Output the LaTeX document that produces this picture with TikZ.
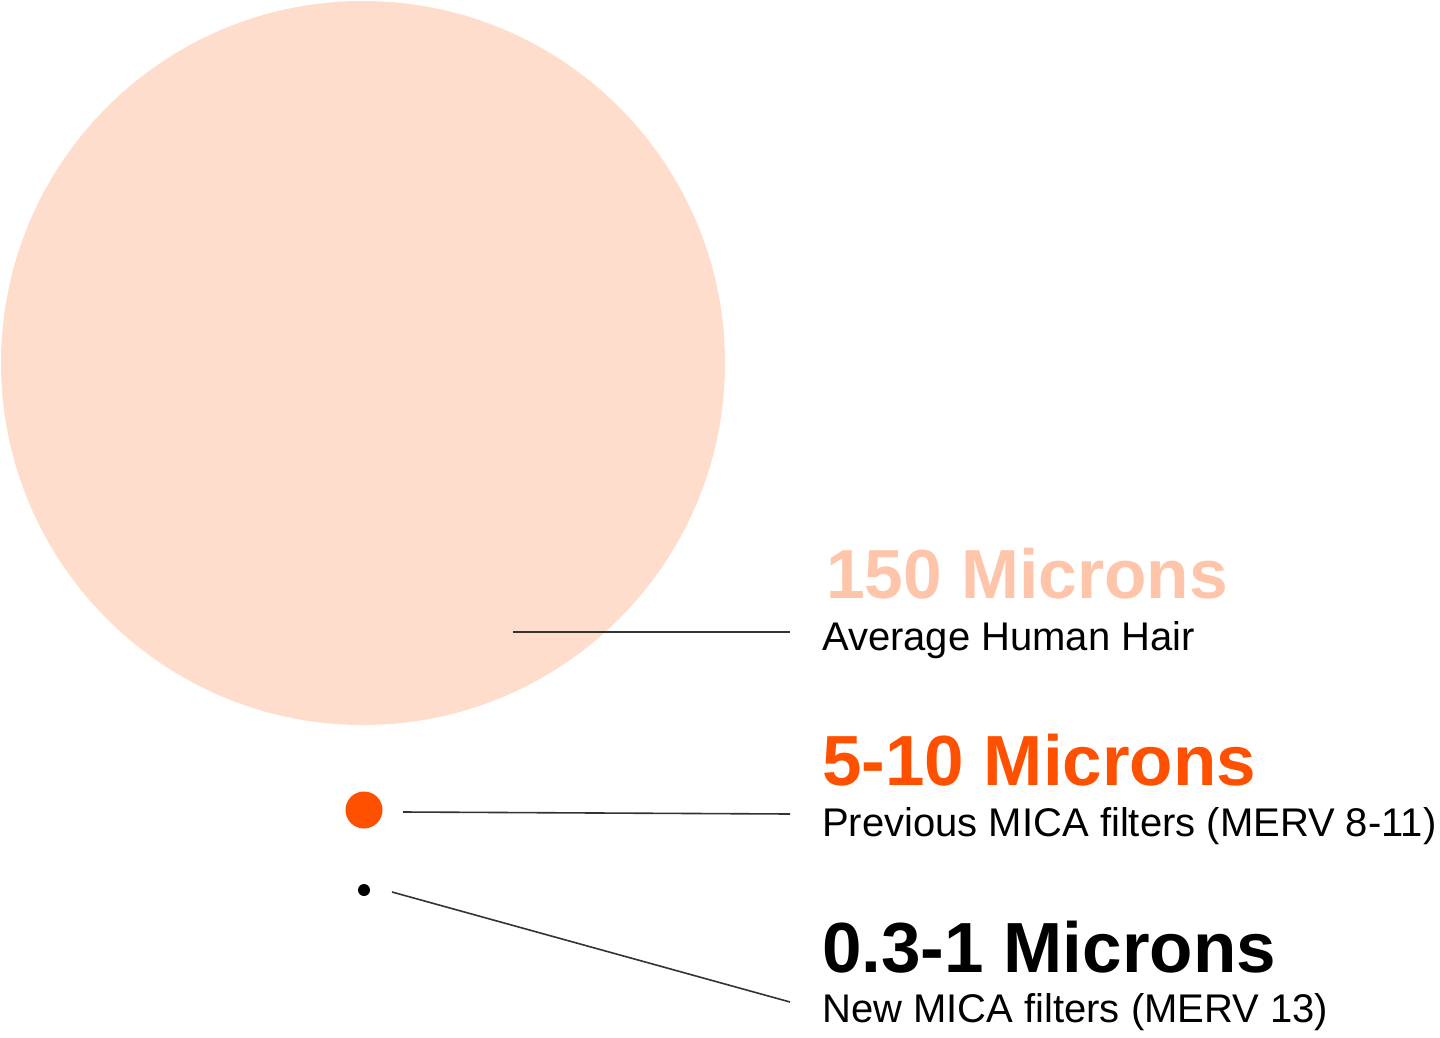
\documentclass[tikz,border=0pt]{standalone}
\usepackage{fontspec}
\setmainfont{Liberation Sans}
\definecolor{peach}{HTML}{FFDDCC}
\definecolor{peachtxt}{HTML}{FFC5AA}
\definecolor{micaorange}{HTML}{FF5000}
\definecolor{leader}{HTML}{333333}
\begin{document}
\begin{tikzpicture}[x=1pt,y=-1pt,
  title/.style={anchor=base west,inner sep=0pt,font=\fontsize{71}{80}\selectfont\bfseries},
  sub/.style={anchor=base west,inner sep=0pt,font=\fontsize{40}{48}\selectfont},
  leaderline/.style={draw=leader,line width=1.6pt},
  dot/.style={circle,inner sep=0pt,draw=none}]
\useasboundingbox (0,0) rectangle (1440,1038);
\node[dot,fill=peach,minimum size=724pt] (hair) at (363,363) {};
\node[dot,fill=micaorange,minimum size=37pt] (old) at (364,810) {};
\node[dot,fill=black,minimum size=12pt] (new) at (364,890) {};

\node[title,text=peachtxt,font=\fontsize{69.5}{80}\selectfont\bfseries] (t1) at (826,598) {150 Microns};
\node[sub] (s1) at (822,650) {Average Human Hair};
\node[title,text=micaorange] (t2) at (822,785) {5-10 Microns};
\node[sub] (s2) at (822,836) {Previous MICA filters (MERV 8-11)};
\node[title,text=black] (t3) at (822,972) {0.3-1 Microns};
\node[sub] (s3) at (822,1022) {New MICA filters (MERV 13)};

\coordinate (a1) at (513,632);
\coordinate (b1) at (790,632);
\coordinate (a2) at (403,812);
\coordinate (b2) at (790,814);
\coordinate (a3) at (392,892);
\coordinate (b3) at (790,1002);
\draw[leaderline] (a1) -- (b1);
\draw[leaderline] (a2) -- (b2);
\draw[leaderline] (a3) -- (b3);
\end{tikzpicture}
\end{document}
